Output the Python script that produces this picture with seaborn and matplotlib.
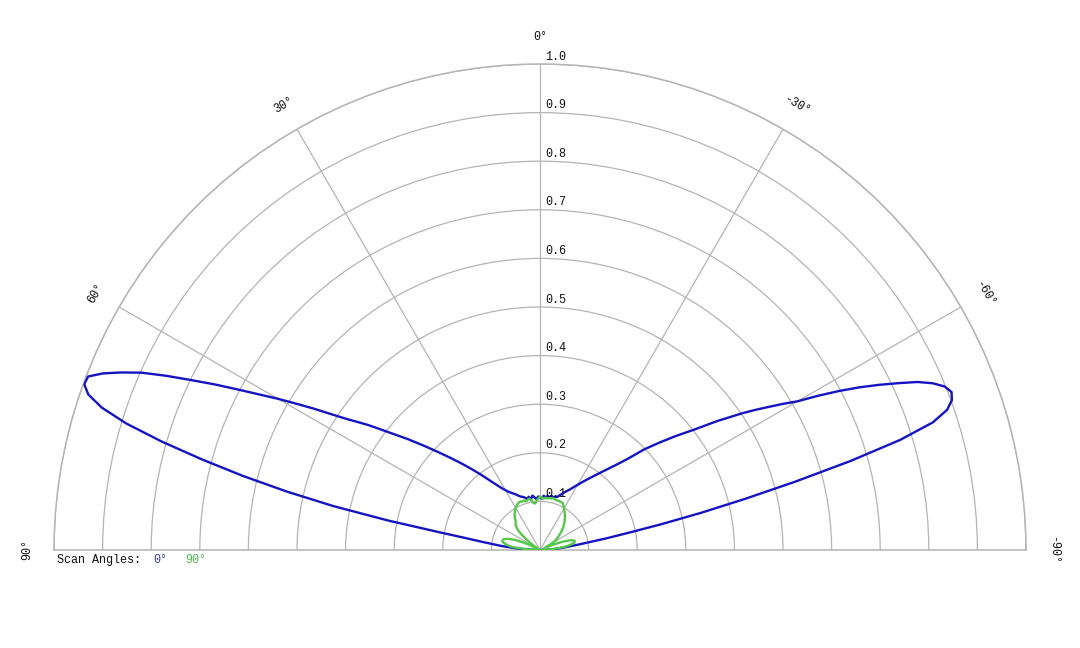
import numpy as np
import pandas as pd
import matplotlib
matplotlib.use("Agg")
import matplotlib.pyplot as plt
import seaborn as sns

# ---------------- data ----------------
series_names = ["0°", "90°"]

blue_deg = [90, 88, 86, 84, 82, 81, 80, 79, 78, 77, 76, 75, 74, 73, 72, 71, 70,
            69, 68, 67, 66, 65, 64, 63, 62, 61, 60, 59, 58, 57, 56, 55, 54, 53, 52,
            50, 48, 46, 44, 42, 40, 38, 36, 34, 32, 30, 28, 26, 24, 22, 20, 18,
            16, 14, 12, 10, 8, 6, 4, 2, 0, -2, -4, -6, -8, -10, -12, -14, -16,
            -18, -20, -22, -24, -26, -28, -30, -32, -34, -36, -38, -40, -42, -44,
            -46, -48, -50, -52, -54, -56, -57, -58, -59, -60, -61, -62, -63, -64,
            -65, -66, -67, -68, -69, -70, -71, -72, -73, -74, -75, -76, -77, -78,
            -79, -80, -82, -84, -86, -88, -90]
blue_r = [0.0, 0.02, 0.05, 0.08, 0.12, 0.15, 0.21, 0.32, 0.435, 0.535, 0.63,
          0.72, 0.81, 0.89, 0.948, 0.983, 0.998, 0.996, 0.97, 0.935, 0.897,
          0.848, 0.797, 0.75, 0.703, 0.66, 0.622, 0.584, 0.549, 0.514, 0.484,
          0.46, 0.438, 0.414, 0.392, 0.355, 0.32, 0.289, 0.262, 0.238, 0.216,
          0.196, 0.178, 0.163, 0.151, 0.142, 0.135, 0.13, 0.126, 0.121, 0.117,
          0.115, 0.112, 0.108, 0.112, 0.106, 0.113, 0.109, 0.105, 0.110, 0.109,
          0.106, 0.112, 0.108, 0.113, 0.110, 0.114, 0.112, 0.114, 0.115, 0.12,
          0.126, 0.132, 0.138, 0.146, 0.155, 0.165, 0.176, 0.188, 0.202, 0.218,
          0.237, 0.262, 0.298, 0.33, 0.365, 0.402, 0.452, 0.504, 0.53, 0.556,
          0.584, 0.612, 0.655, 0.697, 0.737, 0.775, 0.812, 0.85, 0.878, 0.898,
          0.907, 0.902, 0.886, 0.85, 0.775, 0.665, 0.545, 0.435, 0.34, 0.255,
          0.185, 0.14, 0.08, 0.05, 0.03, 0.01, 0.0]

green_deg = [90, 88, 86, 84, 82, 80, 78, 76, 74, 72, 70, 68, 66, 64, 62, 60, 58,
             56, 54, 52, 50, 48, 46, 44, 42, 40, 38, 36, 34, 32, 30, 28, 26, 24,
             22, 20, 18, 16, 14, 12, 10, 8, 6, 4, 2, 0, -2, -4, -6, -8, -10, -12,
             -14, -16, -18, -20, -22, -24, -26, -28, -30, -32, -34, -36, -38, -40,
             -42, -44, -46, -48, -50, -52, -54, -56, -58, -60, -62, -64, -66, -68,
             -70, -72, -74, -76, -78, -80, -82, -84, -86, -88, -90]
green_r = [0.0, 0.012, 0.035, 0.055, 0.066, 0.073, 0.078, 0.080, 0.079, 0.074,
           0.066, 0.055, 0.04, 0.025, 0.01, 0.004, 0.008, 0.014, 0.022, 0.036,
           0.05, 0.061, 0.067, 0.072, 0.075, 0.078, 0.084, 0.089, 0.093, 0.097,
           0.100, 0.103, 0.105, 0.107, 0.108, 0.106, 0.107, 0.104, 0.106, 0.108,
           0.104, 0.098, 0.096, 0.101, 0.106, 0.110, 0.108, 0.106, 0.108, 0.107,
           0.109, 0.108, 0.110, 0.109, 0.108, 0.108, 0.108, 0.108, 0.107, 0.103,
           0.099, 0.095, 0.091, 0.087, 0.083, 0.079, 0.075, 0.07, 0.066, 0.061,
           0.056, 0.051, 0.046, 0.042, 0.037, 0.031, 0.024, 0.014, 0.012, 0.03,
           0.05, 0.064, 0.072, 0.074, 0.072, 0.065, 0.055, 0.04, 0.025, 0.01,
           0.0]

r_ticks = [0.1, 0.2, 0.3, 0.4, 0.5, 0.6, 0.7, 0.8, 0.9, 1.0]
r_tick_labels = ["0.1", "0.2", "0.3", "0.4", "0.5", "0.6", "0.7", "0.8", "0.9", "1.0"]
grid_angles = [-60, -30, 0, 30, 60]
angle_ticks = [90, 60, 30, 0, -30, -60, -90]
angle_labels = ["90°", "60°", "30°", "0°", "-30°", "-60°", "-90°"]

# ---------------- style ----------------
sns.set_theme(style="white")
plt.rcParams["font.family"] = ["Liberation Mono", "DejaVu Sans Mono", "DejaVu Sans"]

BLUE = "#1414c4"
GREEN = "#55c84a"
GRID = "#b4b4b4"
TXT = "#111111"
FS = 8.5

fig = plt.figure(figsize=(10.8, 6.48), dpi=100)
fig.patch.set_facecolor("white")
# half-disk wedge is padded to a square box by matplotlib: centre at 1/4 height
ax = fig.add_axes([54 / 1080, -145 / 648, 972 / 1080, 972 / 648], projection="polar")
ax.set_facecolor("white")
ax.set_theta_zero_location("N")
ax.set_theta_direction(1)
ax.set_thetamin(-90)
ax.set_thetamax(90)

df_blue = pd.DataFrame({"theta": np.deg2rad(blue_deg), "r": blue_r})
df_green = pd.DataFrame({"theta": np.deg2rad(green_deg), "r": green_r})
sns.lineplot(data=df_blue, x="theta", y="r", ax=ax, color=BLUE, linewidth=1.7,
             sort=False, estimator=None, zorder=3)
sns.lineplot(data=df_green, x="theta", y="r", ax=ax, color=GREEN, linewidth=1.7,
             sort=False, estimator=None, zorder=3)

ax.set_ylim(0, 1.0)
ax.set_xticks(np.deg2rad(grid_angles))
ax.set_yticks(r_ticks)
ax.set_xticklabels([])
ax.set_yticklabels([])
ax.set_xlabel("")
ax.set_ylabel("")
ax.tick_params(length=0)
ax.grid(True, color=GRID, linewidth=0.9)
for name, sp in ax.spines.items():
    sp.set_color(GRID)
    sp.set_linewidth(1.1)

# radial labels
for r, lab in zip(r_ticks, r_tick_labels):
    ax.annotate(lab, xy=(0, r), xytext=(3.5, 1.0), textcoords="offset points",
                ha="left", va="bottom", fontsize=FS, color=TXT,
                annotation_clip=False)

# angle labels
for a, lab in zip(angle_ticks, angle_labels):
    ax.text(np.deg2rad(a), 1.056, lab, rotation=a, rotation_mode="anchor",
            ha="center", va="center", fontsize=FS, color=TXT, clip_on=False)

# legend
ly = 1 - 560 / 648
fig.text(57 / 1080, ly, "Scan Angles:", fontsize=FS, color=TXT, va="center", ha="left")
fig.text(153 / 1080, ly, series_names[0], fontsize=FS, color="#3a3ab4", va="center", ha="left")
fig.text(185 / 1080, ly, series_names[1], fontsize=FS, color="#4cb84c", va="center", ha="left")

fig.savefig("out.png", dpi=100, facecolor="white")
